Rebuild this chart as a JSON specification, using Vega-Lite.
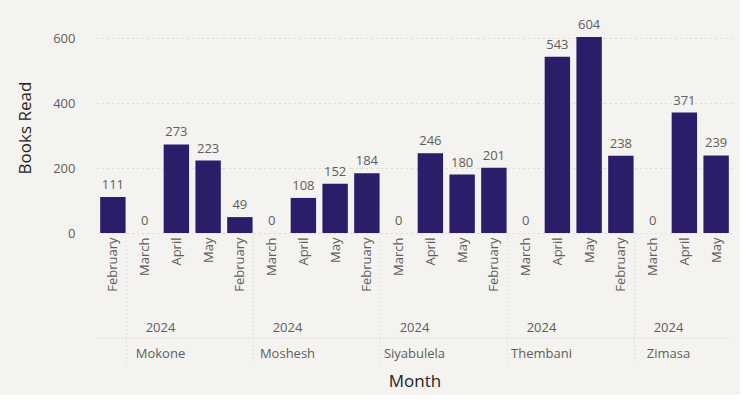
{
  "$schema": "https://vega.github.io/schema/vega-lite/v6.json",
  "background": "#F4F3EF",
  "padding": {"left": 16, "top": 18, "right": 8, "bottom": 5},
  "data": {"values": [
    {"Person": "Mokone", "Year": 2024, "Month": "February", "Books": 111},
    {"Person": "Mokone", "Year": 2024, "Month": "March", "Books": 0},
    {"Person": "Mokone", "Year": 2024, "Month": "April", "Books": 273},
    {"Person": "Mokone", "Year": 2024, "Month": "May", "Books": 223},
    {"Person": "Moshesh", "Year": 2024, "Month": "February", "Books": 49},
    {"Person": "Moshesh", "Year": 2024, "Month": "March", "Books": 0},
    {"Person": "Moshesh", "Year": 2024, "Month": "April", "Books": 108},
    {"Person": "Moshesh", "Year": 2024, "Month": "May", "Books": 152},
    {"Person": "Siyabulela", "Year": 2024, "Month": "February", "Books": 184},
    {"Person": "Siyabulela", "Year": 2024, "Month": "March", "Books": 0},
    {"Person": "Siyabulela", "Year": 2024, "Month": "April", "Books": 246},
    {"Person": "Siyabulela", "Year": 2024, "Month": "May", "Books": 180},
    {"Person": "Thembani", "Year": 2024, "Month": "February", "Books": 201},
    {"Person": "Thembani", "Year": 2024, "Month": "March", "Books": 0},
    {"Person": "Thembani", "Year": 2024, "Month": "April", "Books": 543},
    {"Person": "Thembani", "Year": 2024, "Month": "May", "Books": 604},
    {"Person": "Zimasa", "Year": 2024, "Month": "February", "Books": 238},
    {"Person": "Zimasa", "Year": 2024, "Month": "March", "Books": 0},
    {"Person": "Zimasa", "Year": 2024, "Month": "April", "Books": 371},
    {"Person": "Zimasa", "Year": 2024, "Month": "May", "Books": 239}
  ]},
  "facet": {
    "column": {
      "field": "Person",
      "type": "nominal",
      "header": {
        "labelOrient": "bottom",
        "labelExpr": "['2024', datum.value]",
        "labelAlign": "center",
        "labelAnchor": "middle",
        "labelFontSize": 13,
        "labelColor": "#605E5C",
        "labelFont": "Segoe UI, Open Sans, sans-serif",
        "labelLineHeight": 26,
        "labelPadding": -42,
        "title": "Month",
        "titleOrient": "bottom",
        "titleFontSize": 17,
        "titleFontWeight": "normal",
        "titleColor": "#252423",
        "titleFont": "Segoe UI, Open Sans, sans-serif",
        "titlePadding": 0
      }
    }
  },
  "spacing": 0,
  "spec": {
    "width": 127,
    "height": 211,
    "encoding": {
      "y": {
        "field": "Books",
        "type": "quantitative",
        "scale": {"domain": [0, 650], "nice": false},
        "axis": {
          "title": "Books Read",
          "values": [0, 200, 400, 600],
          "titleFontSize": 17,
          "titleFontWeight": "normal",
          "titleColor": "#252423",
          "titleFont": "Segoe UI, Open Sans, sans-serif",
          "titlePadding": 18,
          "labelFontSize": 13,
          "labelColor": "#605E5C",
          "labelFont": "Segoe UI, Open Sans, sans-serif",
          "labelPadding": 22,
          "domain": false,
          "ticks": false,
          "grid": true,
          "gridDash": [1, 4],
          "gridColor": "#c4c2bd"
        }
      }
    },
    "layer": [
      {
        "mark": {"type": "bar", "color": "#2C1D6B"},
        "encoding": {
          "x": {
            "field": "Month",
            "type": "ordinal",
            "sort": ["February", "March", "April", "May"],
            "scale": {"paddingInner": 0.2, "paddingOuter": 0.1},
            "axis": {
              "title": null,
              "labelAngle": -90,
              "labelAlign": "right",
              "labelBaseline": "middle",
              "labelFontSize": 13,
              "labelColor": "#605E5C",
              "labelFont": "Segoe UI, Open Sans, sans-serif",
              "domain": false,
              "ticks": true,
              "tickBand": "extent",
              "tickSize": 130,
              "tickDash": [1, 3],
              "tickColor": {"condition": {"test": "datum.value === 'February'", "value": "#cfcdc8"}, "value": "transparent"},
              "labelPadding": -126,
              "grid": false
            }
          }
        }
      },
      {
        "mark": {"type": "text", "baseline": "bottom", "dy": -5, "fontSize": 13, "color": "#605E5C", "font": "Segoe UI, Open Sans, sans-serif"},
        "encoding": {
          "x": {
            "field": "Month",
            "type": "ordinal",
            "sort": ["February", "March", "April", "May"],
            "axis": {
              "title": null,
              "orient": "bottom",
              "offset": 105,
              "labels": false,
              "ticks": false,
              "grid": false,
              "domain": true,
              "domainDash": [1, 3],
              "domainColor": "#cfcdc8",
              "domainWidth": 1
            }
          },
          "text": {"field": "Books", "type": "quantitative"}
        }
      }
    ],
    "resolve": {"axis": {"x": "independent"}}
  },
  "config": {
    "view": {"stroke": null}
  }
}
